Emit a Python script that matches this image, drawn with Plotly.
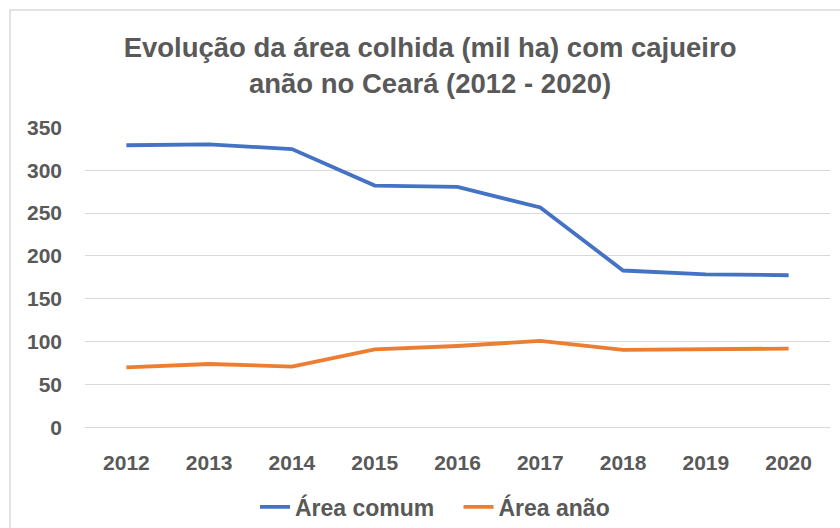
import plotly.graph_objects as go

years = ["2012", "2013", "2014", "2015", "2016", "2017", "2018", "2019", "2020"]
area_comum = [329, 330, 324.5, 282, 280.5, 256.5, 183, 178.5, 177.5]
area_anao = [70, 74, 71, 91, 95, 101, 90.5, 91, 92]

FONT = "Liberation Sans, Arial, sans-serif"
GRAY = "#595959"

fig = go.Figure()
fig.add_trace(go.Scatter(x=years, y=area_comum, mode="lines",
                         name="<b>Área comum</b>&nbsp;&nbsp;&nbsp;",
                         line=dict(color="#4472C4", width=3.8)))
fig.add_trace(go.Scatter(x=years, y=area_anao, mode="lines", name="<b>Área anão</b>",
                         line=dict(color="#ED7D31", width=3.8)))

PH = 301
PW = 745
fig.update_layout(
    width=840, height=528,
    margin=dict(l=85, r=10, t=127, b=100, autoexpand=False),
    paper_bgcolor="white", plot_bgcolor="white",
    font=dict(family=FONT, color=GRAY),
    title=dict(text="<b>Evolução da área colhida (mil ha) com cajueiro<br>anão no Ceará (2012 - 2020)</b>",
               x=0.512, xanchor="center", y=1 - 65 / 528 + 8 / 528, yanchor="middle",
               font=dict(size=27.5, color=GRAY, family=FONT)),
    showlegend=True,
    legend=dict(orientation="h", x=(435 - 85) / PW, xanchor="center", y=(428 - 507) / PH,
                yanchor="middle", font=dict(size=23, color=GRAY, family=FONT),
                itemwidth=30, traceorder="normal"),
    xaxis=dict(type="category", range=[-0.5, 8.5], showgrid=False, zeroline=False,
               showline=False, ticks="", ticklabelstandoff=20, automargin=False,
               tickfont=dict(size=21, color=GRAY, family=FONT),
               tickvals=years, ticktext=["<b>" + y + "</b>" for y in years]),
    yaxis=dict(range=[-0.6, 350.3], dtick=50, showgrid=True, gridcolor="#D9D9D9", gridwidth=1,
               zeroline=True, zerolinecolor="#D9D9D9", zerolinewidth=1,
               showline=False, ticks="", ticklabelstandoff=22,
               automargin=False, tickprefix="<b>", ticksuffix="</b>",
               tickfont=dict(size=21, color=GRAY, family=FONT)),
)
fig.add_shape(type="rect", xref="paper", yref="paper",
              x0=(10 - 85) / PW, x1=1 + 30 / PW, y0=-140 / PH, y1=1 + (127 - 10) / PH,
              line=dict(color="#D9D9D9", width=1.5), fillcolor="rgba(0,0,0,0)", layer="below")

fig.write_html("out.html", config={"displayModeBar": False},
               post_script="document.body.style.margin='0';")
